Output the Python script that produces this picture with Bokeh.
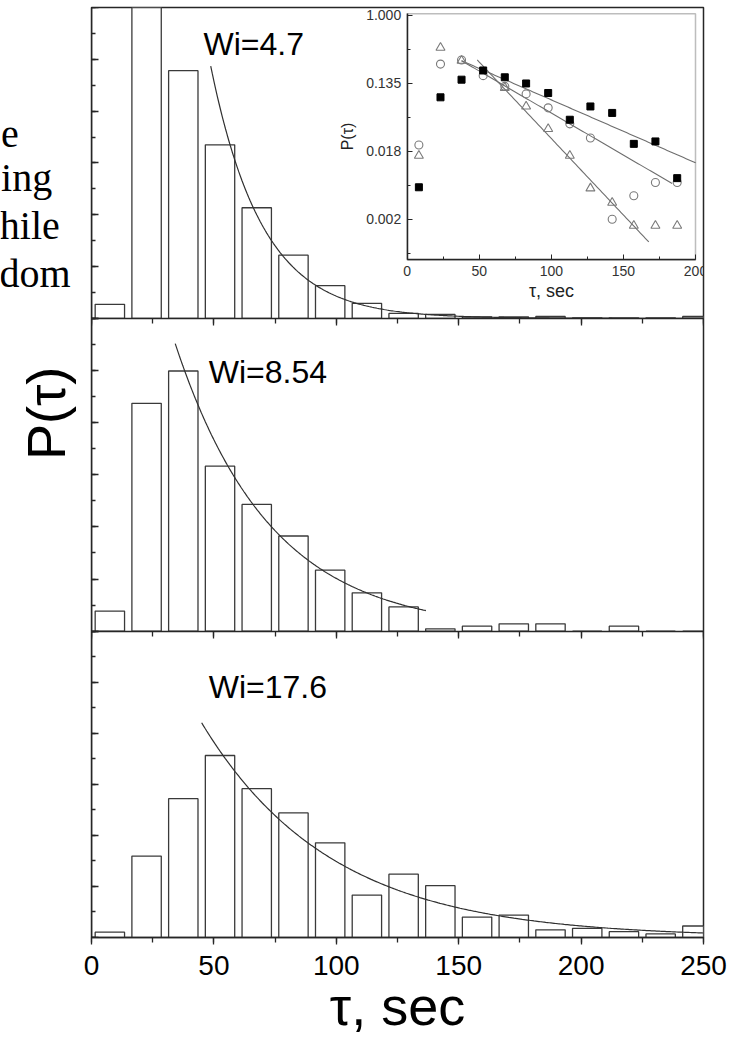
import math
import numpy as np
from bokeh.plotting import figure
from bokeh.layouts import row
from bokeh.models import (Label, SingleIntervalTicker, FixedTicker,
                          CustomJSTickFormatter, Range1d, LinearAxis, LogAxis,
                          LogScale, BoxAnnotation)
from bokeh.embed import file_html
from bokeh.resources import INLINE

SANS = "Liberation Sans"
SERIF = "Liberation Serif"
INK = "#262626"
BAR = "#3a3a3a"

# ---------------- data ----------------
bin_centers = [7.5, 22.5, 37.5, 52.5, 67.5, 82.5, 97.5, 112.5, 127.5,
               142.5, 157.5, 172.5, 187.5, 202.5, 217.5, 232.5, 247.5]
bin_width = 12.0

panel_labels = ["Wi=4.7", "Wi=8.54", "Wi=17.6"]
hist_wi47 = [0.54, 13.5, 9.56, 6.70, 4.27, 2.44, 1.26, 0.58, 0.19,
             0.15, 0.06, 0.06, 0.07, 0.02, 0.02, 0.02, 0.07]
hist_wi854 = [0.77, 8.74, 9.98, 6.33, 4.86, 3.65, 2.34, 1.47, 0.93,
              0.09, 0.19, 0.28, 0.28, 0.0, 0.19, 0.0, 0.0]
hist_wi176 = [0.21, 3.19, 5.44, 7.13, 5.83, 4.88, 3.71, 1.66, 2.48,
              2.03, 0.80, 0.88, 0.30, 0.36, 0.23, 0.14, 0.45]
hists = [hist_wi47, hist_wi854, hist_wi176]

# exponential fits drawn over the histograms
fit_start = [48.7, 34.2, 45.0]
fit_end = [250.0, 136.6, 250.0]
fit_amp = [9.74, 11.03, 8.41]
fit_tau = [21.1, 38.8, 53.0]

# inset (log scale)
inset_tau = [8.1, 23.1, 37.7, 52.7, 67.7, 82.5, 97.8, 112.8, 127.1,
             142.2, 157.2, 172.2, 187.3]
inset_sq = [0.00635, 0.0898, 0.151, 0.198, 0.162, 0.135, 0.102, 0.0464,
            0.0686, 0.0567, 0.0228, 0.0245, 0.00831]            # Wi=17.6
inset_circ = [0.0221, 0.239, 0.270, 0.170, 0.124, 0.0993, 0.0659, 0.0411,
              0.0271, 0.00248, 0.00494, 0.00730, 0.00730]        # Wi=8.54
inset_tri_tau = [8.1, 23.1, 37.7, 67.7, 82.5, 97.8, 112.8, 127.1, 142.2,
                 157.2, 172.2, 187.3]
inset_tri = [0.0161, 0.387, 0.264, 0.119, 0.0686, 0.0354, 0.0161, 0.00616,
             0.00404, 0.00205, 0.00205, 0.00205]                 # Wi=4.7
inset_fit_start = [37.7, 37.7, 48.6]      # squares, circles, triangles
inset_fit_p0 = [0.264, 0.264, 0.270]
inset_fit_end = [200.0, 183.8, 167.6]
inset_fit_tau = [54.0, 40.4, 22.2]
inset_yticks = [1.0, math.exp(-2), math.exp(-4), math.exp(-6)]
inset_yminor = [math.exp(-1), math.exp(-3), math.exp(-5), math.exp(-7)]

side_text = ["e", "ing", "hile", "dom"]

# ---------------- geometry (pixels) ----------------
LW = 80                   # left strip figure width
W, H = 668, 1038          # main figure
FL, FR, FT, FB = 11, 45, 7, 99
FW = W - FL - FR          # 612
FH = H - FT - FB          # 932
band_top = [0, 311.5, 625]
band_bot = [311.5, 625, 932]
band_units = [12.0, 12.0, 12.0]
names = ["p1", "p2", "default"]


def band_range(k):
    s = (band_bot[k] - band_top[k]) / band_units[k]
    return Range1d((band_bot[k] - FH) / s, band_bot[k] / s)


INS_L, INS_R = 315.7, 604.0       # inset frame, px from frame left
INS_T, INS_B = 6.3, 253.0         # inset frame, px from frame top
LN_TOP, LN_BOT = 0.05, -7.2
IX0, IX1 = 0.0, 200.0
sx_in = (INS_R - INS_L) / (IX1 - IX0)
s_ln = (INS_B - INS_T) / (LN_TOP - LN_BOT)
ix_range = Range1d(IX0 - INS_L / sx_in, IX0 + (FW - INS_L) / sx_in)
iy_range = Range1d(math.exp(LN_TOP - (FH - INS_T) / s_ln),
                   math.exp(LN_TOP + INS_T / s_ln))
IYMIN, IYMAX = math.exp(LN_BOT), math.exp(LN_TOP)

# ---------------- left strip (running text + big y title) ----------------
left = figure(width=LW, height=H, x_range=Range1d(0, LW),
              y_range=Range1d(H, 0), x_axis_location=None,
              y_axis_location=None, output_backend="svg",
              toolbar_location=None, min_border=0)
left.outline_line_color = None
left.background_fill_color = None
left.border_fill_color = None
left.xgrid.visible = False
left.ygrid.visible = False

side_right = [18.3, 51.7, 59.3, 70.0]
side_base = [141.0, 190.0, 243.3, 296.7]
for t, sx, sy in zip(side_text, side_right, side_base):
    left.add_layout(Label(x=sx, y=sy, text=t, text_font=SERIF,
                          text_font_size="40px", text_color="black",
                          text_align="right", text_baseline="alphabetic"))
left.add_layout(Label(x=45, y=505, text="P(τ)", angle=math.pi / 2,
                      text_font=SANS, text_font_size="54px",
                      text_color="black", text_align="left",
                      text_baseline="middle"))

# ---------------- main figure ----------------
p = figure(width=W, height=H, x_range=Range1d(0, 250), y_range=band_range(2),
           x_axis_location="below", y_axis_location=None,
           output_backend="svg", toolbar_location=None,
           min_border_left=FL, min_border_right=FR,
           min_border_top=FT, min_border_bottom=FB)
p.extra_y_ranges = {"p1": band_range(0), "p2": band_range(1), "iy": iy_range}
p.extra_x_ranges = {"ix": ix_range}
p.extra_y_scales = {"iy": LogScale()}
p.background_fill_color = None
p.border_fill_color = None
p.outline_line_color = INK
p.outline_line_width = 1.5
p.xgrid.visible = False
p.ygrid.visible = False


def style_x(ax, labels=False):
    ax.ticker = SingleIntervalTicker(interval=50, num_minor_ticks=2)
    ax.major_tick_in = 0
    ax.major_tick_out = 7
    ax.minor_tick_in = 0
    ax.minor_tick_out = 5
    ax.axis_line_color = INK
    ax.axis_line_width = 1.5
    ax.major_tick_line_color = INK
    ax.minor_tick_line_color = INK
    ax.major_tick_line_width = 1.3
    ax.minor_tick_line_width = 1.3
    if labels:
        ax.major_label_text_font = SANS
        ax.major_label_text_font_size = "28px"
        ax.major_label_text_color = "black"
        ax.major_label_standoff = 11
    else:
        ax.formatter = CustomJSTickFormatter(code="return ''")
        ax.major_label_text_font_size = "1px"


for k in range(3):
    rn = names[k]
    p.vbar(x=bin_centers, top=hists[k], width=bin_width, bottom=0,
           fill_color="white", line_color=BAR, line_width=1.3, y_range_name=rn)
    xs = np.linspace(fit_start[k], fit_end[k], 300)
    ys = fit_amp[k] * np.exp(-(xs - fit_start[k]) / fit_tau[k])
    p.line(xs, ys, line_color="#303030", line_width=1.2, y_range_name=rn)

    ya = LinearAxis(y_range_name=rn, fixed_location=0,
                    bounds=(0, band_units[k]))
    ya.ticker = SingleIntervalTicker(interval=2, num_minor_ticks=2)
    ya.formatter = CustomJSTickFormatter(code="return ''")
    ya.major_label_text_font_size = "1px"
    ya.major_tick_in = 7
    ya.major_tick_out = 0
    ya.minor_tick_in = 4
    ya.minor_tick_out = 0
    ya.axis_line_color = INK
    ya.axis_line_width = 1.5
    ya.major_tick_line_color = INK
    ya.minor_tick_line_color = INK
    ya.major_tick_line_width = 1.3
    ya.minor_tick_line_width = 1.3
    p.add_layout(ya, "left")

    if k < 2:
        xa = LinearAxis(y_range_name=rn, fixed_location=0)
        style_x(xa)
        p.add_layout(xa, "below")

xb = p.xaxis[0]
style_x(xb, labels=True)
xb.axis_label = "τ, sec"
xb.axis_label_text_font = SANS
xb.axis_label_text_font_size = "54px"
xb.axis_label_text_font_style = "normal"
xb.axis_label_text_color = "black"
xb.axis_label_standoff = -2

label_pos = [(45.75, 10.58), (47.9, 9.94), (47.9, 9.83)]
for k, (lx, ly) in enumerate(label_pos):
    p.add_layout(Label(x=lx, y=ly, y_range_name=names[k], text=panel_labels[k],
                       text_font=SANS, text_font_size="32px",
                       text_color="black", text_align="left",
                       text_baseline="alphabetic"))

# ---------------- inset ----------------
p.add_layout(BoxAnnotation(left=IX0, right=IX1, bottom=IYMIN, top=IYMAX,
                           x_range_name="ix", y_range_name="iy",
                           fill_alpha=0, line_color=INK, line_width=1.5))

for k in range(3):
    xs = np.linspace(inset_fit_start[k], inset_fit_end[k], 100)
    ys = inset_fit_p0[k] * np.exp(-(xs - inset_fit_start[k]) / inset_fit_tau[k])
    p.line(xs, ys, line_color="#6e6e6e", line_width=1.1,
           x_range_name="ix", y_range_name="iy")

p.scatter(inset_tri_tau, inset_tri, marker="triangle", size=9,
          fill_color=None, line_color="#7a7a7a", line_width=1.1,
          x_range_name="ix", y_range_name="iy")
p.scatter(inset_tau, inset_circ, marker="circle", size=8,
          fill_color=None, line_color="#7a7a7a", line_width=1.1,
          x_range_name="ix", y_range_name="iy")
p.scatter(inset_tau, inset_sq, marker="square", size=7,
          fill_color="black", line_color="black",
          x_range_name="ix", y_range_name="iy")

ix = LinearAxis(x_range_name="ix", y_range_name="iy", fixed_location=IYMIN,
                bounds=(IX0, IX1))
ix.ticker = SingleIntervalTicker(interval=50, num_minor_ticks=2)
ix.major_tick_in = 5
ix.major_tick_out = 0
ix.minor_tick_in = 3
ix.minor_tick_out = 0
ix.major_label_text_font = SANS
ix.major_label_text_font_size = "14px"
ix.major_label_text_color = "#333333"
ix.major_label_standoff = 6
ix.axis_label = "τ, sec"
ix.axis_label_text_font = SANS
ix.axis_label_text_font_size = "18px"
ix.axis_label_text_font_style = "normal"
ix.axis_label_text_color = "#222222"
ix.axis_label_standoff = 2
ix.axis_line_color = INK
ix.axis_line_width = 1.5
ix.major_tick_line_color = INK
ix.minor_tick_line_color = INK
p.add_layout(ix, "below")

iy = LogAxis(x_range_name="ix", y_range_name="iy", fixed_location=IX0,
             bounds=(IYMIN, IYMAX))
iy.ticker = FixedTicker(ticks=inset_yticks, minor_ticks=inset_yminor)
iy.formatter = CustomJSTickFormatter(code="return tick.toFixed(3)")
iy.major_tick_in = 5
iy.major_tick_out = 0
iy.minor_tick_in = 3
iy.minor_tick_out = 0
iy.major_label_text_font = SANS
iy.major_label_text_font_size = "14px"
iy.major_label_text_color = "#333333"
iy.major_label_standoff = 6
iy.axis_label = "P(τ)"
iy.axis_label_text_font = SANS
iy.axis_label_text_font_size = "16px"
iy.axis_label_text_font_style = "normal"
iy.axis_label_text_color = "#222222"
iy.axis_label_standoff = 7
iy.axis_line_color = INK
iy.axis_line_width = 1.5
iy.major_tick_line_color = INK
iy.minor_tick_line_color = INK
p.add_layout(iy, "left")

layout = row(left, p)
open("out.html", "w").write(file_html(layout, INLINE))
